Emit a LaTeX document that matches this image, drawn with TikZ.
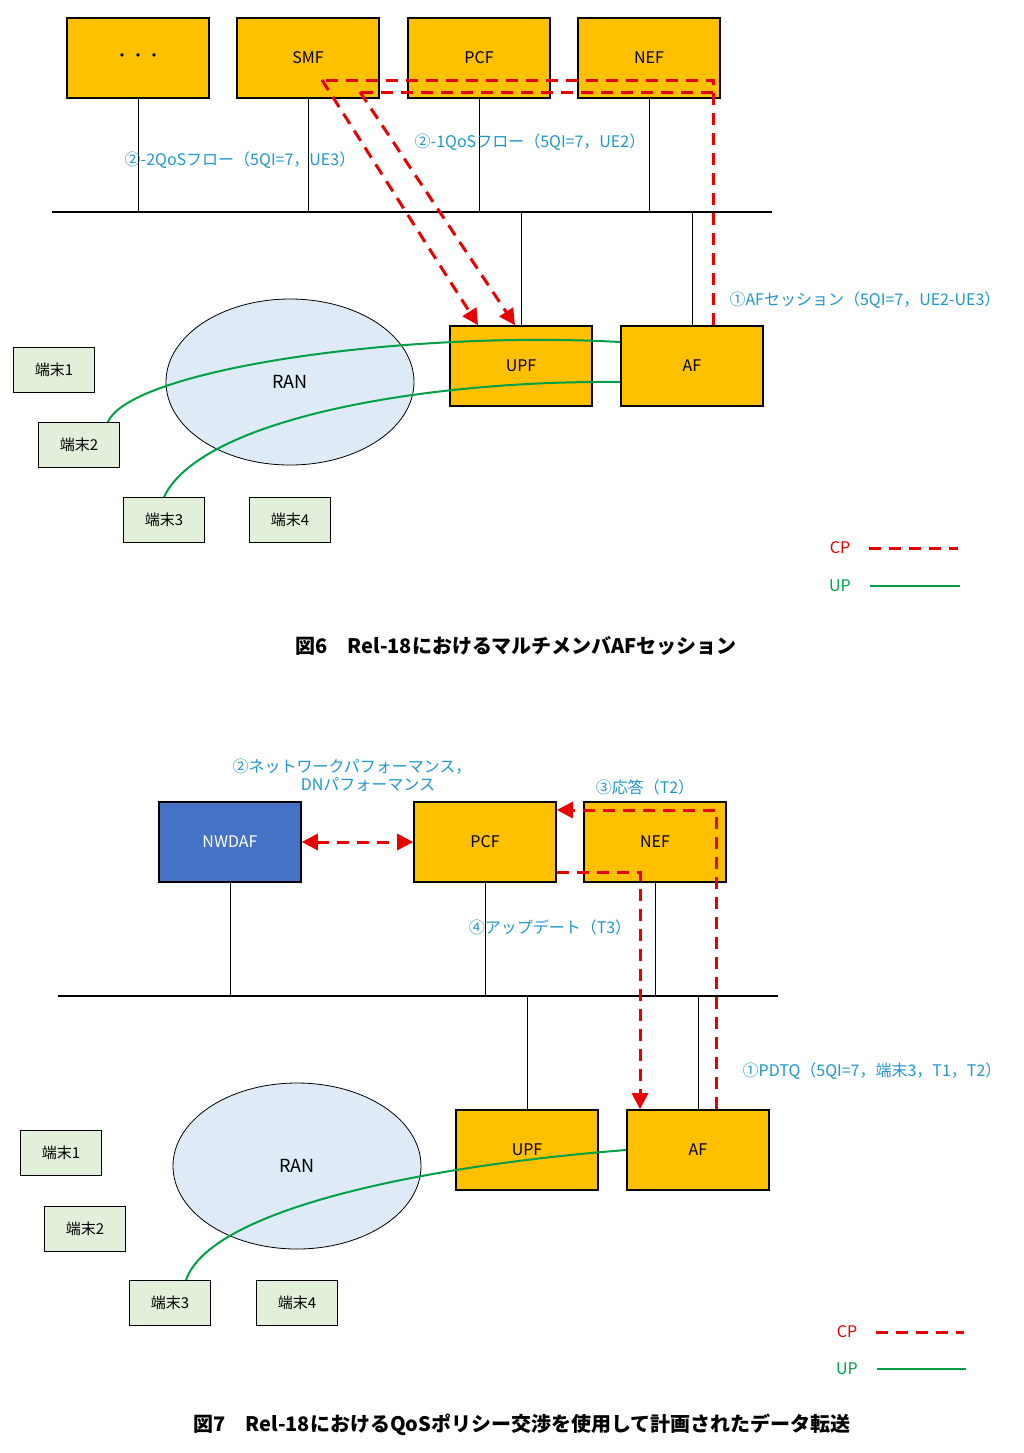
\documentclass[tikz,border=0pt]{standalone}
\usepackage{fontspec}
\setmainfont{Noto Sans CJK JP}
\usetikzlibrary{arrows.meta,shapes.geometric}
\definecolor{nfy}{RGB}{255,192,0}
\definecolor{nwb}{RGB}{68,114,196}
\definecolor{uegreen}{RGB}{226,239,218}
\definecolor{ranblue}{RGB}{222,235,247}
\definecolor{cpred}{RGB}{230,0,0}
\definecolor{upgreen}{RGB}{0,160,70}
\definecolor{lbl}{RGB}{30,150,205}
\tikzset{
  nf/.style={draw,thick,fill=nfy,minimum width=71pt,minimum height=40pt,font=\fontsize{8}{9}\selectfont},
  ue/.style={draw,fill=uegreen,minimum width=40.5pt,minimum height=22.5pt,font=\fontsize{7.5}{9}\selectfont},
  ran/.style={draw,fill=ranblue,ellipse,minimum width=124pt,minimum height=83pt,font=\fontsize{9}{10}\selectfont},
  cp/.style={draw=cpred,line width=1.5pt,dash pattern=on 6pt off 4pt},
  cparrow/.style={cp,-{Triangle[length=8pt,width=8pt]}},
  up/.style={draw=upgreen,line width=1pt},
  lab/.style={text=lbl,font=\fontsize{8}{9}\selectfont},
  figcap/.style={font=\bfseries\fontsize{10}{12}\selectfont}
}
\begin{document}
\begin{tikzpicture}[x=0.5pt,y=-0.5pt]
	\useasboundingbox (0,0) rectangle (1024,1453);
	% Fig. 6
	\node[nf] (dots)at(138,58) {・・・};
	\node[nf] (smf)at(308,58) {SMF};
	\node[nf] (pcf)at(479,58) {PCF};
	\node[nf] (nef)at(649,58) {NEF};
	\node[nf] (upf)at(521,366) {UPF};
	\node[nf] (af)at(692,366) {AF};
	\coordinate (busL)at(52,212);
	\coordinate (busR)at(772,212);
	\draw[thick] (busL) -- (busR);
	\draw (dots) -- (dots |- busL);
	\draw (smf) -- (smf |- busL);
	\draw (pcf) -- (pcf |- busL);
	\draw (nef) -- (nef |- busL);
	\draw (upf) -- (upf |- busL);
	\draw (af) -- (af |- busL);
	\node[ran] (ran)at(290,382) {RAN};
	\node[ue] (ue1)at(54,370) {端末1};
	\node[ue] (ue2)at(79,445) {端末2};
	\node[ue] (ue3)at(164,520) {端末3};
	\node[ue] (ue4)at(290,520) {端末4};
	\draw[up] (ue2.north east)++(-12,0) .. controls (130,370) and (400,330) .. (af.west |- 0,342);
	\draw[up] (ue3.north) .. controls (200,420) and (420,380) .. (af.west |- 0,382);
	\coordinate (smfa)at(322,80);
	\coordinate (smfb)at(360,92);
	\coordinate (nefa)at(713,80);
	\coordinate (nefb)at(713,92);
	\draw[cp] (af.north -| nefa) -- (nefa) -- (smfa);
	\draw[cp] (nefb) -- (smfb);
	\draw[cparrow] (smfa) -- (upf.north -| 478,0);
	\draw[cparrow] (smfb) -- (upf.north -| 515,0);
	\node[lab] (q2)at(240,160) {②-2QoSフロー（5QI=7，UE3）};
	\node[lab] (q1)at(530,142) {②-1QoSフロー（5QI=7，UE2）};
	\node[lab] (afs)at(865,300) {①AFセッション（5QI=7，UE2-UE3）};
	\node[text=cpred,font=\fontsize{8}{9}\selectfont] (cpa)at(840,548) {CP};
	\coordinate (cpae)at(958,548);
	\draw[cp] (cpa.east)++(12,0) -- (cpae);
	\node[text=upgreen,font=\fontsize{8}{9}\selectfont] (upa)at(840,586) {UP};
	\coordinate (upae)at(960,586);
	\draw[up] (upa.east)++(12,0) -- (upae);
	\node[figcap] (fig6)at(516,646) {図6　Rel-18におけるマルチメンバAFセッション};
	% Fig. 7
	\node[nf,fill=nwb,text=white] (nwdaf)at(230,842) {NWDAF};
	\node[nf] (pcfb)at(485,842) {PCF};
	\node[nf] (nefb7)at(655,842) {NEF};
	\node[nf] (upfb)at(527,1150) {UPF};
	\node[nf] (afb)at(698,1150) {AF};
	\coordinate (bus2L)at(58,996);
	\coordinate (bus2R)at(778,996);
	\draw[thick] (bus2L) -- (bus2R);
	\draw (nwdaf) -- (nwdaf |- bus2L);
	\draw (pcfb) -- (pcfb |- bus2L);
	\draw (nefb7) -- (nefb7 |- bus2L);
	\draw (upfb) -- (upfb |- bus2L);
	\draw (afb) -- (afb |- bus2L);
	\node[ran] (ranb)at(297,1166) {RAN};
	\node[ue] (ue1b)at(61,1153) {端末1};
	\node[ue] (ue2b)at(85,1229) {端末2};
	\node[ue] (ue3b)at(170,1303) {端末3};
	\node[ue] (ue4b)at(297,1303) {端末4};
	\draw[up] (ue3b.north)++(16,0) .. controls (210,1210) and (420,1166) .. (afb.west);
	\draw[cp,{Triangle[length=8pt,width=8pt]}-{Triangle[length=8pt,width=8pt]}] (nwdaf) -- (pcfb);
	\coordinate (rsp)at(716,810);
	\coordinate (upd)at(640,872);
	\draw[cparrow] (afb.north -| rsp) -- (rsp) -- (pcfb.east |- rsp);
	\draw[cparrow] (pcfb.east |- upd) -- (upd) -- (afb.north -| upd);
	\node[lab,align=center] (nwp)at(352,775) {②ネットワークパフォーマンス，\\\hspace*{16pt}DNパフォーマンス};
	\node[lab] (ans)at(645,787) {③応答（T2）};
	\node[lab] (upn)at(550,927) {④アップデート（T3）};
	\node[lab] (pdtq)at(872,1071) {①PDTQ（5QI=7，端末3，T1，T2）};
	\node[text=cpred,font=\fontsize{8}{9}\selectfont] (cpb)at(847,1332) {CP};
	\coordinate (cpbe)at(964,1332);
	\draw[cp] (cpb.east)++(12,0) -- (cpbe);
	\node[text=upgreen,font=\fontsize{8}{9}\selectfont] (upb)at(847,1369) {UP};
	\coordinate (upbe)at(966,1369);
	\draw[up] (upb.east)++(12,0) -- (upbe);
	\node[figcap] (fig7)at(522,1425) {図7　Rel-18におけるQoSポリシー交渉を使用して計画されたデータ転送};
\end{tikzpicture}
\end{document}
